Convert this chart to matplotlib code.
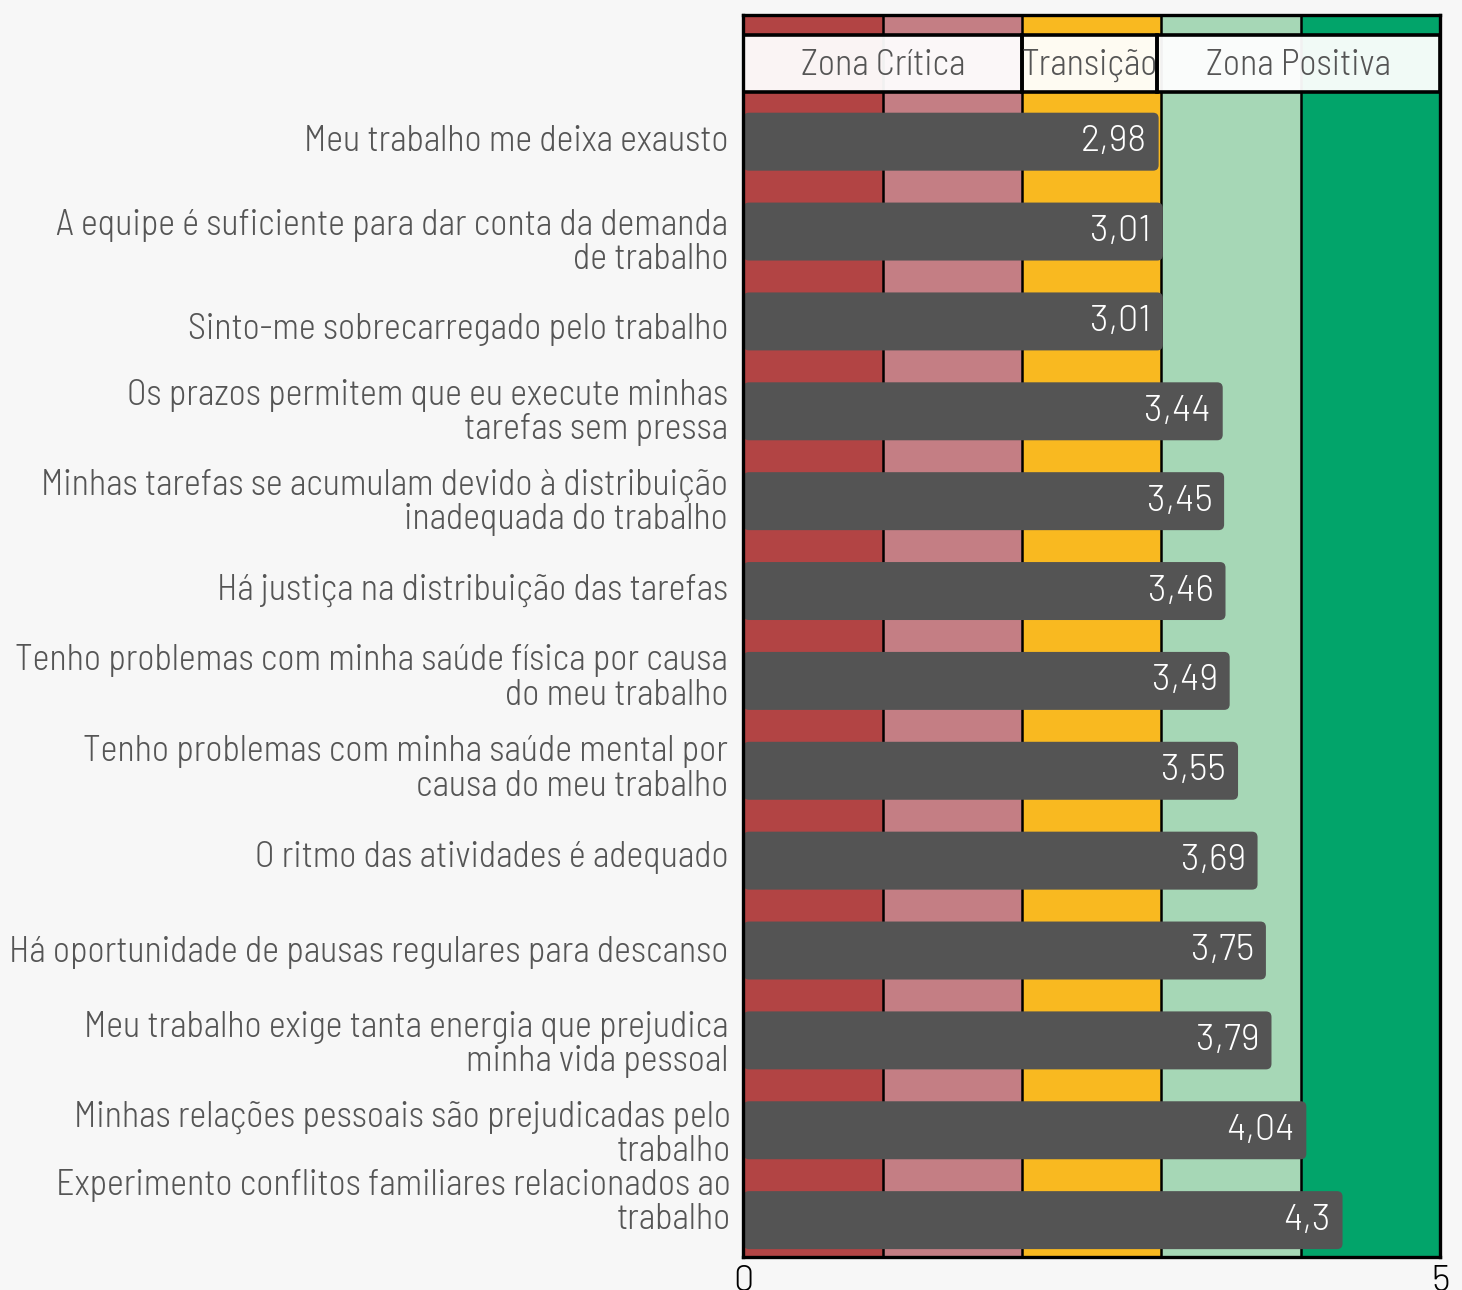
import numpy as np
import matplotlib.pyplot as plt
from matplotlib.patches import FancyBboxPatch, Rectangle
from matplotlib.transforms import ScaledTranslation

# dados
labels = [
    "Meu trabalho me deixa exausto",
    "A equipe é suficiente para dar conta da demanda\nde trabalho",
    "Sinto-me sobrecarregado pelo trabalho",
    "Os prazos permitem que eu execute minhas\ntarefas sem pressa",
    "Minhas tarefas se acumulam devido à distribuição\ninadequada do trabalho",
    "Há justiça na distribuição das tarefas",
    "Tenho problemas com minha saúde física por causa\ndo meu trabalho",
    "Tenho problemas com minha saúde mental por\ncausa do meu trabalho",
    "O ritmo das atividades é adequado",
    "Há oportunidade de pausas regulares para descanso",
    "Meu trabalho exige tanta energia que prejudica\nminha vida pessoal",
    "Minhas relações pessoais são prejudicadas pelo\ntrabalho",
    "Experimento conflitos familiares relacionados ao\ntrabalho",
]
values = [2.98, 3.01, 3.01, 3.44, 3.45, 3.46, 3.49, 3.55, 3.69, 3.75, 3.79, 4.04, 4.30]

band_edges = [0, 1, 2, 3, 4, 5]
band_colors = ["#b24444", "#c47e84", "#f9b920", "#a6d7b6", "#02a46a"]

zones = ["Zona Crítica", "Transição", "Zona Positiva"]
zone_start = [0, 2, 2.97]
zone_end = [2, 2.97, 5]

# pequenos ajustes de posição dos rótulos (px)
label_dy = [-4, 7, 5, -3, -3, -4, -7, -6, -7, -2, 0, 0, -22]
label_dx = [0] * 11 + [3, 3]

cond = ["Barlow Semi Condensed", "Roboto Condensed", "DejaVu Sans"]
reg = ["Barlow", "Roboto", "DejaVu Sans"]
plt.rcParams['font.family'] = cond
plt.rcParams['font.weight'] = 300
txt = "#555555"
fs = 26

fig = plt.figure(figsize=(14.62, 12.9), dpi=100, facecolor="#f7f7f7")
ax = fig.add_axes([0.5085, 0.0256, 0.4765, 0.9628])
ax.set_facecolor("#f7f7f7")

# faixas de fundo
for i in range(len(band_colors)):
    ax.axvspan(band_edges[i], band_edges[i + 1], color=band_colors[i], zorder=0, lw=0)
for e in band_edges[1:-1]:
    ax.axvline(e, color="black", lw=1.8, zorder=1)

y = np.arange(len(values))
bars = ax.barh(y, values, height=0.645, color="#545454", zorder=2)
# cantos arredondados
for b in bars:
    b.set_visible(False)
    p = FancyBboxPatch((b.get_x(), b.get_y()), b.get_width(), b.get_height(),
                       boxstyle="round,pad=0,rounding_size=0.04",
                       mutation_aspect=1.55, fc="#545454", ec="none", zorder=2)
    ax.add_patch(p)

for yi, v in zip(y, values):
    s = ("%g" % v).replace(".", ",")
    ax.annotate(s, (v, yi), xytext=(-8.5, 0), textcoords="offset points",
                ha="right", va="center", color="white", fontsize=fs,
                family=reg, zorder=3)

# caixas das zonas
for name, x0, x1 in zip(zones, zone_start, zone_end):
    r = Rectangle((x0, -1.19), x1 - x0, 0.64, fc="white", alpha=0.95, ec="none", zorder=4)
    ax.add_patch(r)
    r2 = Rectangle((x0, -1.19), x1 - x0, 0.64, fc="none", ec="black", lw=2.6, zorder=5)
    ax.add_patch(r2)
    ax.text((x0 + x1) / 2, -0.85, name, ha="center", va="center",
            fontsize=fs, color=txt, zorder=6)

ax.set_xlim(0, 5)
ax.set_ylim(12.41, -1.41)
ax.set_xticks([0, 5])
ax.set_xticklabels(["0", "5"], fontsize=fs, color="black", family=reg)
ax.tick_params(axis="x", length=0, pad=6)
ax.set_yticks(y)
ax.set_yticklabels(labels, fontsize=fs, color=txt, linespacing=1.05)
ax.tick_params(axis="y", length=0, pad=11)
for lbl, dx, dy in zip(ax.get_yticklabels(), label_dx, label_dy):
    lbl.set_transform(lbl.get_transform() + ScaledTranslation(dx / 100, -dy / 100, fig.dpi_scale_trans))
for s in ax.spines.values():
    s.set_linewidth(2.4)
    s.set_color("black")
    s.set_zorder(7)

plt.savefig("out.png", dpi=100, facecolor=fig.get_facecolor())
